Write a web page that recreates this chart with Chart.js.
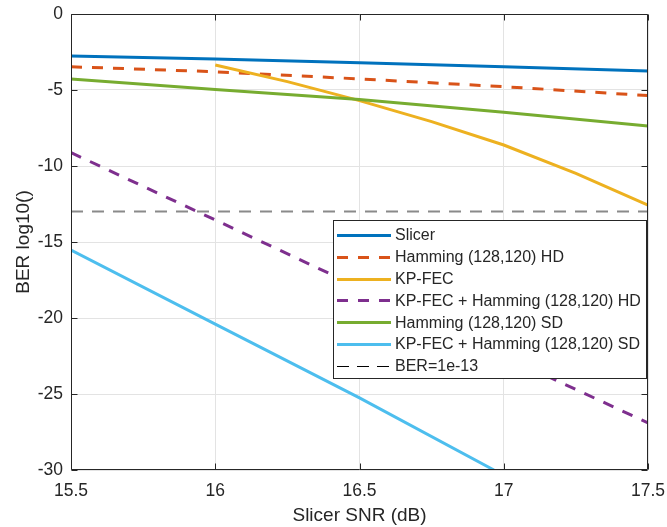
<!DOCTYPE html>
<html>
<head>
<meta charset="utf-8">
<script src="https://cdn.jsdelivr.net/npm/chart.js@4/dist/chart.umd.min.js"></script>
<style>
html,body{margin:0;padding:0;background:#fff;}
#wrap{width:667px;height:527px;}
</style>
</head>
<body>
<div id="wrap"><canvas id="c" width="667" height="527"></canvas></div>
<script>
// ---- data ----
const xTicks = [15.5, 16, 16.5, 17, 17.5];
const yTicks = [0, -5, -10, -15, -20, -25, -30];

const slicerX = [15.5, 16, 16.5, 17, 17.5];
const slicerY = [-2.76, -2.96, -3.2, -3.47, -3.75];

const hamHdX = [15.5, 16, 16.5, 17, 17.5];
const hamHdY = [-3.47, -3.8, -4.27, -4.78, -5.37];

const kpX = [16, 16.25, 16.5, 16.75, 17, 17.25, 17.5];
const kpY = [-3.36, -4.45, -5.7, -7.08, -8.62, -10.48, -12.57];

const kpHamHdX = [15.5, 16, 16.5, 17, 17.5];
const kpHamHdY = [-9.12, -13.55, -18.0, -22.5, -26.9];

const hamSdX = [15.5, 16, 16.5, 17, 17.5];
const hamSdY = [-4.28, -4.96, -5.62, -6.47, -7.37];

const kpHamSdX = [15.5, 16, 16.5, 16.966];
const kpHamSdY = [-15.53, -20.4, -25.26, -30];

const berX = [15.5, 17.5];
const berY = [-13, -13];

const labels = [
  'Slicer',
  'Hamming (128,120) HD',
  'KP-FEC',
  'KP-FEC + Hamming (128,120) HD',
  'Hamming (128,120) SD',
  'KP-FEC + Hamming (128,120) SD',
  'BER=1e-13'
];

function pts(xs, ys){ return xs.map((v,i)=>({x:v, y:ys[i]})); }

const TXT = '#262626';
const FONT = '"Liberation Sans", Arial, Helvetica, sans-serif';

const datasets = [
  {label: labels[0], data: pts(slicerX, slicerY), borderColor:'#0072BD', borderWidth:3},
  {label: labels[1], data: pts(hamHdX, hamHdY), borderColor:'#D95319', borderWidth:3, borderDash:[11,10]},
  {label: labels[2], data: pts(kpX, kpY), borderColor:'#EDB120', borderWidth:3},
  {label: labels[3], data: pts(kpHamHdX, kpHamHdY), borderColor:'#7E2F8E', borderWidth:3, borderDash:[11,10]},
  {label: labels[4], data: pts(hamSdX, hamSdY), borderColor:'#77AC30', borderWidth:3},
  {label: labels[5], data: pts(kpHamSdX, kpHamSdY), borderColor:'#4DBEEE', borderWidth:3},
  {label: labels[6], data: pts(berX, berY), borderColor:'#8a8a8a', borderWidth:2, borderDash:[12,9],
   legendColor:'#000000', legendWidth:1, legendDash:[12,8]}
].map((d, i) => Object.assign({
  fill:false, pointRadius:0, pointHoverRadius:0, tension:0, order: 10 - i,
  borderCapStyle:'butt'
}, d));

const framePlugin = {
  id: 'frame',
  afterDatasetsDraw(chart){
    const {ctx, chartArea:a, scales} = chart;
    const L = Math.round(a.left)+0.5, R = Math.round(a.right)-0.5;
    const T = Math.round(a.top)+0.5, B = Math.round(a.bottom)-0.5;
    ctx.save();
    ctx.strokeStyle = TXT; ctx.lineWidth = 1; ctx.setLineDash([]);
    ctx.beginPath();
    ctx.rect(L, T, R-L, B-T);
    const tl = 6;
    xTicks.forEach(v => {
      const px = Math.round(scales.x.getPixelForValue(v)) + 0.5;
      ctx.moveTo(px, B); ctx.lineTo(px, B - tl);
      ctx.moveTo(px, T); ctx.lineTo(px, T + tl);
    });
    yTicks.forEach(v => {
      const py = Math.round(scales.y.getPixelForValue(v)) + 0.5;
      ctx.moveTo(L, py); ctx.lineTo(L + tl, py);
      ctx.moveTo(R, py); ctx.lineTo(R - tl, py);
    });
    ctx.stroke();

    // legend box
    const bx = 333.5, by = 220.5, bw = 313, bh = 158;
    ctx.fillStyle = '#ffffff';
    ctx.fillRect(bx, by, bw, bh);
    ctx.strokeStyle = TXT; ctx.lineWidth = 1;
    ctx.strokeRect(bx, by, bw, bh);
    ctx.font = '16px ' + FONT;
    ctx.textBaseline = 'middle';
    ctx.textAlign = 'left';
    chart.data.datasets.forEach((ds, i) => {
      const cy = 235 + i * 21.8;
      ctx.save();
      ctx.strokeStyle = ds.legendColor || ds.borderColor;
      ctx.lineWidth = ds.legendWidth || ds.borderWidth;
      ctx.setLineDash(ds.legendDash || ds.borderDash || []);
      ctx.beginPath();
      ctx.moveTo(337, Math.round(cy) + 0.5);
      ctx.lineTo(391, Math.round(cy) + 0.5);
      ctx.stroke();
      ctx.restore();
      ctx.fillStyle = TXT;
      ctx.fillText(ds.label, 395, cy + 1);
    });
    ctx.restore();
  }
};

new Chart(document.getElementById('c'), {
  type: 'line',
  data: { datasets },
  options: {
    responsive: false,
    devicePixelRatio: 1,
    animation: false,
    events: [],
    layout: { padding: {top: 14, right: 19, left: 0, bottom: 0} },
    plugins: { legend: {display:false}, tooltip: {enabled:false} },
    scales: {
      x: {
        type: 'linear', min: 15.5, max: 17.5,
        afterBuildTicks: s => { s.ticks = xTicks.map(v => ({value: v})); },
        afterFit: s => { s.height = 57; s.paddingLeft = 0; s.paddingRight = 0; },
        grid: { color: '#e3e3e3', lineWidth: 1, drawTicks: false },
        border: { display: false },
        ticks: { color: TXT, padding: 11, font: {size: 17.5, family: FONT},
                 maxRotation: 0, autoSkip: false,
                 callback: v => String(v) },
        title: { display: true, text: 'Slicer SNR (dB)', color: TXT,
                 font: {size: 19, family: FONT}, padding: {top: 0, bottom: 0} }
      },
      y: {
        type: 'linear', min: -30, max: 0,
        afterBuildTicks: s => { s.ticks = yTicks.map(v => ({value: v})); },
        afterFit: s => { s.width = 71; s.paddingTop = 0; s.paddingBottom = 0; },
        grid: { color: '#e3e3e3', lineWidth: 1, drawTicks: false },
        border: { display: false },
        ticks: { color: TXT, padding: 8, font: {size: 17.5, family: FONT},
                 autoSkip: false, callback: v => String(v) },
        title: { display: true, text: 'BER log10()', color: TXT,
                 font: {size: 19, family: FONT}, padding: {top: 12, bottom: 0} }
      }
    }
  },
  plugins: [framePlugin]
});
</script>
</body>
</html>
